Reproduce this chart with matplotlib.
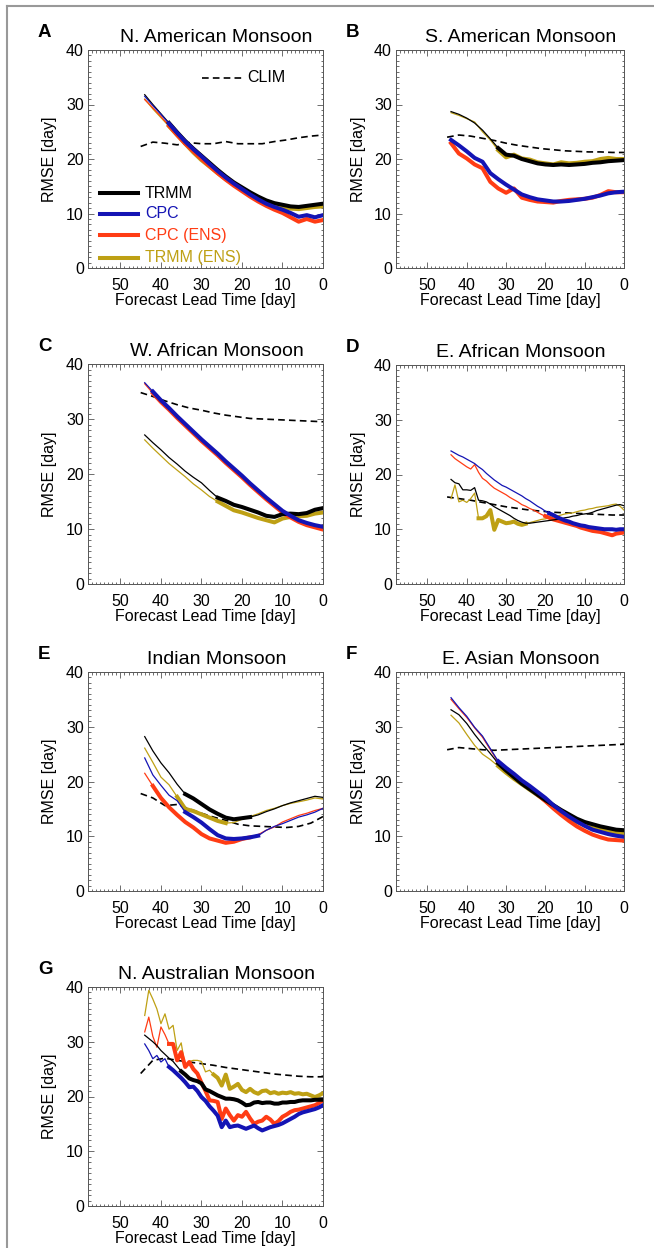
import numpy as np
import matplotlib.pyplot as plt
from matplotlib.lines import Line2D

plt.rcParams['font.family'] = ['Liberation Sans', 'DejaVu Sans']

# forecast lead times [day]
lead2 = list(range(44, -1, -2))
lead1 = list(range(44, -1, -1))
lead_clim = list(range(45, -1, -3))

# ---- A: N. American Monsoon ----
a_trmm = [31.8, 30.0, 28.3, 26.6, 24.9, 23.3, 21.9, 20.6, 19.3, 18.0, 16.8, 15.7,
          14.8, 13.9, 13.1, 12.4, 11.9, 11.6, 11.3, 11.2, 11.4, 11.6, 11.8]
a_cpc = [31.5, 29.8, 28.2, 26.5, 24.8, 23.2, 21.8, 20.5, 19.1, 17.8, 16.6, 15.5,
         14.5, 13.5, 12.6, 11.8, 11.2, 10.7, 10.1, 9.4, 9.7, 9.3, 9.7]
a_cpc_ens = [30.9, 29.4, 27.8, 26.1, 24.4, 22.8, 21.4, 20.0, 18.7, 17.4, 16.2, 15.1,
             14.1, 13.1, 12.2, 11.4, 10.7, 10.1, 9.3, 8.5, 9.0, 8.5, 8.8]
a_trmm_ens = [31.0, 29.2, 27.6, 26.0, 24.4, 22.8, 21.2, 19.8, 18.6, 17.4, 16.3, 15.3,
              14.5, 13.6, 12.8, 12.1, 11.5, 11.2, 10.9, 10.8, 11.0, 11.2, 11.3]
a_clim = [22.3, 23.1, 22.9, 22.6, 23.0, 22.8, 22.8, 23.2, 22.8, 22.8, 22.8, 23.2,
          23.5, 23.9, 24.2, 24.4]

# ---- B: S. American Monsoon ----
b_trmm = [28.7, 28.2, 27.5, 26.6, 25.3, 23.7, 22.0, 20.8, 20.6, 20.0, 19.6, 19.2,
          19.0, 18.9, 19.0, 18.9, 19.0, 19.1, 19.3, 19.4, 19.6, 19.7, 19.8]
b_cpc = [23.5, 22.5, 21.4, 20.2, 19.5, 17.4, 16.3, 15.3, 14.4, 13.5, 13.0, 12.6,
         12.4, 12.2, 12.2, 12.3, 12.5, 12.7, 13.0, 13.3, 13.7, 13.9, 14.0]
b_cpc_ens = [22.9, 21.0, 20.1, 19.0, 18.3, 15.8, 14.6, 13.8, 14.6, 12.9, 12.5, 12.2,
             12.1, 12.0, 12.3, 12.5, 12.6, 12.7, 12.9, 13.4, 14.1, 13.9, 13.9]
b_trmm_ens = [28.5, 28.0, 27.4, 26.8, 25.0, 23.5, 21.6, 20.3, 20.8, 20.1, 19.9, 19.4,
              19.2, 19.0, 19.4, 19.2, 19.3, 19.5, 19.6, 20.0, 20.2, 20.0, 20.0]
b_clim = [24.0, 24.4, 24.2, 23.8, 23.4, 22.9, 22.5, 22.2, 21.9, 21.7, 21.5, 21.4,
          21.3, 21.3, 21.2, 21.2]

# ---- C: W. African Monsoon ----
c_trmm = [27.1, 25.7, 24.4, 23.0, 21.8, 20.5, 19.4, 18.4, 17.0, 15.7, 15.1, 14.4,
          14.0, 13.5, 13.0, 12.4, 12.2, 12.7, 12.8, 12.7, 12.9, 13.5, 13.8]
c_cpc = [36.6, 35.0, 33.4, 32.0, 30.5, 29.1, 27.7, 26.3, 25.0, 23.7, 22.3, 21.0,
         19.7, 18.3, 17.0, 15.7, 14.5, 13.3, 12.4, 11.6, 11.1, 10.7, 10.4]
c_cpc_ens = [36.4, 34.7, 33.1, 31.7, 30.2, 28.8, 27.4, 26.0, 24.7, 23.4, 22.0, 20.7,
             19.4, 18.0, 16.7, 15.4, 14.2, 13.0, 12.1, 11.3, 10.7, 10.3, 9.9]
c_trmm_ens = [26.2, 24.7, 23.3, 21.9, 20.7, 19.5, 18.2, 17.1, 15.9, 15.0, 14.2, 13.4,
              13.0, 12.5, 12.0, 11.6, 11.2, 11.9, 12.2, 12.3, 12.4, 12.8, 13.0]
c_clim = [34.8, 34.1, 33.3, 32.6, 32.0, 31.6, 31.1, 30.7, 30.4, 30.1, 30.0, 29.9,
          29.8, 29.7, 29.6, 29.5]

# ---- D: E. African Monsoon (daily) ----
d_trmm = [19.1, 18.5, 18.3, 17.2, 17.2, 17.1, 17.6, 15.3, 15.2, 15.0, 14.6, 14.1,
          13.7, 13.3, 12.9, 12.5, 12.0, 11.6, 11.3, 11.1, 11.1, 11.2, 11.3, 11.4,
          11.5, 11.6, 11.7, 11.8, 11.9, 12.1, 12.2, 12.4, 12.5, 12.7, 12.8, 12.9,
          13.1, 13.4, 13.6, 13.8, 14.0, 14.2, 14.4, 14.5, 14.3]
d_cpc = [24.3, 23.9, 23.5, 23.2, 22.8, 22.4, 22.0, 21.4, 20.9, 20.2, 19.6, 19.0,
         18.5, 18.0, 17.7, 17.3, 16.9, 16.5, 16.1, 15.6, 15.2, 14.7, 14.2, 13.8,
         13.3, 12.9, 12.6, 12.2, 11.9, 11.6, 11.4, 11.1, 10.9, 10.7, 10.6, 10.4,
         10.3, 10.2, 10.1, 10.0, 10.0, 10.0, 9.9, 10.0, 10.0]
d_cpc_ens = [23.6, 22.9, 22.4, 21.9, 21.4, 21.0, 21.8, 20.4, 19.3, 18.8, 18.1, 17.5,
             17.1, 16.7, 16.3, 15.8, 15.4, 15.0, 14.5, 14.2, 13.8, 13.5, 13.1, 12.7,
             12.4, 12.1, 11.8, 11.6, 11.4, 11.2, 11.0, 10.8, 10.6, 10.3, 10.1, 9.9,
             9.7, 9.6, 9.5, 9.3, 9.1, 8.9, 9.2, 9.3, 9.4]
d_trmm_ens = [15.6, 18.1, 15.0, 15.3, 14.9, 15.6, 16.6, 12.0, 12.0, 12.4, 13.5, 9.9,
              11.7, 11.4, 11.1, 11.2, 11.4, 11.0, 10.8, 11.0, 11.2, 11.4, 11.6, 11.8,
              11.9, 12.1, 12.3, 12.4, 12.6, 12.8, 12.9, 13.0, 13.2, 13.4, 13.5, 13.7,
              13.8, 14.0, 14.1, 14.2, 14.3, 14.5, 14.6, 14.2, 13.5]
d_clim = [15.9, 15.6, 15.3, 14.9, 14.5, 14.1, 13.8, 13.5, 13.3, 13.1, 13.0, 12.9,
          12.8, 12.7, 12.6, 12.6]

# ---- E: Indian Monsoon ----
e_trmm = [28.2, 25.6, 23.4, 21.6, 19.5, 17.7, 16.9, 15.9, 14.9, 14.1, 13.4, 13.1,
          13.3, 13.5, 13.9, 14.5, 15.0, 15.6, 16.1, 16.5, 16.9, 17.3, 17.1]
e_cpc = [24.3, 21.2, 19.3, 17.5, 16.5, 14.4, 13.5, 12.5, 11.3, 10.2, 9.6, 9.5,
         9.6, 9.8, 10.1, 11.1, 11.8, 12.3, 12.9, 13.5, 13.9, 14.4, 15.1]
e_cpc_ens = [21.5, 19.2, 17.0, 15.3, 13.9, 12.6, 11.6, 10.4, 9.6, 9.2, 8.8, 9.0,
             9.5, 9.8, 10.3, 11.1, 11.7, 12.6, 13.2, 13.8, 14.2, 14.7, 15.1]
e_trmm_ens = [26.1, 23.5, 20.8, 19.4, 17.2, 15.0, 14.6, 14.0, 13.4, 12.8, 12.4, 12.5,
              13.1, 13.6, 14.1, 14.7, 15.1, 15.6, 16.0, 16.3, 16.6, 17.0, 16.8]
e_clim = [17.8, 17.0, 15.6, 15.8, 15.0, 14.2, 13.5, 12.9, 12.2, 11.9, 11.8, 11.7,
          11.6, 11.8, 12.4, 13.6]

# ---- F: E. Asian Monsoon ----
f_trmm = [33.1, 32.2, 30.6, 28.6, 26.8, 25.1, 23.3, 22.0, 20.8, 19.6, 18.6, 17.6,
          16.6, 15.7, 14.8, 14.0, 13.2, 12.6, 12.2, 11.8, 11.5, 11.2, 11.1]
f_cpc = [35.3, 33.5, 31.9, 29.9, 28.3, 26.0, 23.7, 22.5, 21.4, 20.2, 19.2, 18.1,
         17.0, 15.7, 14.6, 13.6, 12.7, 11.9, 11.2, 10.8, 10.4, 10.1, 9.9]
f_cpc_ens = [35.0, 33.3, 31.7, 29.8, 28.1, 25.8, 23.6, 22.3, 21.1, 19.9, 18.8, 17.6,
             16.4, 15.1, 13.9, 12.8, 11.8, 11.0, 10.3, 9.8, 9.4, 9.3, 9.2]
f_trmm_ens = [32.1, 30.7, 28.6, 26.6, 25.0, 24.0, 22.8, 21.6, 20.5, 19.5, 18.5, 17.5,
              16.5, 15.5, 14.5, 13.5, 12.6, 12.0, 11.5, 11.2, 10.9, 10.7, 10.5]
f_clim = [25.8, 26.2, 26.0, 25.8, 25.7, 25.8, 25.9, 26.0, 26.1, 26.2, 26.3, 26.4,
          26.5, 26.6, 26.7, 26.8]

# ---- G: N. Australian Monsoon (daily) ----
g_trmm = [31.2, 30.6, 30.0, 29.3, 28.4, 27.7, 27.0, 26.4, 25.5, 24.6, 24.0, 23.3,
          23.0, 22.8, 22.4, 21.3, 21.0, 20.6, 20.2, 19.9, 19.6, 19.6, 19.5, 19.3,
          18.9, 18.4, 18.5, 18.9, 19.0, 18.8, 18.9, 18.9, 18.7, 18.7, 18.9, 18.9,
          19.0, 19.0, 19.2, 19.3, 19.3, 19.3, 19.4, 19.4, 19.4]
g_cpc = [29.6, 28.4, 26.9, 27.5, 26.3, 26.9, 25.4, 24.8, 24.1, 23.4, 22.6, 21.7,
         21.8, 21.0, 19.9, 19.2, 18.2, 17.4, 16.5, 14.4, 15.6, 14.4, 14.6, 14.7,
         14.4, 14.1, 14.4, 14.7, 14.2, 13.8, 14.1, 14.4, 14.6, 14.8, 15.1, 15.5,
         15.9, 16.3, 16.8, 17.1, 17.3, 17.5, 17.7, 18.0, 18.4]
g_cpc_ens = [31.8, 34.5, 31.0, 29.0, 32.7, 31.3, 29.6, 29.6, 26.6, 28.1, 25.4, 26.3,
             25.0, 24.2, 22.5, 21.0, 19.3, 19.2, 19.0, 15.9, 17.8, 16.6, 15.6, 16.6,
             16.3, 17.2, 16.0, 15.0, 15.4, 15.6, 16.3, 15.8, 15.0, 15.5, 16.3, 16.7,
             17.2, 17.5, 17.6, 17.8, 18.0, 18.2, 18.4, 18.8, 19.3]
g_trmm_ens = [34.8, 39.4, 37.8, 36.0, 33.3, 35.1, 32.3, 33.0, 28.4, 29.8, 25.4, 26.4,
              26.6, 26.6, 26.4, 24.5, 24.8, 24.0, 23.4, 22.0, 24.0, 21.4, 21.8, 22.3,
              21.2, 20.8, 21.4, 20.8, 20.5, 21.0, 21.1, 20.6, 20.8, 20.5, 20.7, 20.6,
              20.8, 20.5, 20.6, 20.4, 20.5, 20.2, 19.9, 20.2, 20.6]
g_clim = [24.2, 26.6, 27.0, 26.6, 26.3, 26.0, 25.7, 25.3, 25.0, 24.7, 24.4, 24.1,
          23.9, 23.7, 23.6, 23.6]

# lead-time windows (min, max) where the error is significant -> drawn thick
a_sig = [(0, 39), (0, 39), (0, 39), (0, 39)]
b_sig = [(0, 32), (0, 44), (0, 44), (0, 32)]
c_sig = [(0, 27), (0, 42), (0, 42), (0, 27)]
d_sig = [None, (0, 19), (0, 20), (25, 37)]
e_sig = [(17, 35), (15, 35), (17, 43), (23, 36)]
f_sig = [(0, 32), (0, 32), (0, 32), (0, 32)]
g_sig = [(0, 35), (0, 38), (0, 38), (0, 27)]

names = ['TRMM', 'CPC', 'CPC (ENS)', 'TRMM (ENS)']
colors = ['#000000', '#1414b4', '#ff3c14', '#bea014']
draw_order = [3, 2, 0, 1]

panels = [
    ('A', 'N. American Monsoon', lead2, [a_trmm, a_cpc, a_cpc_ens, a_trmm_ens], a_clim, a_sig),
    ('B', 'S. American Monsoon', lead2, [b_trmm, b_cpc, b_cpc_ens, b_trmm_ens], b_clim, b_sig),
    ('C', 'W. African Monsoon', lead2, [c_trmm, c_cpc, c_cpc_ens, c_trmm_ens], c_clim, c_sig),
    ('D', 'E. African Monsoon', lead1, [d_trmm, d_cpc, d_cpc_ens, d_trmm_ens], d_clim, d_sig),
    ('E', 'Indian Monsoon', lead2, [e_trmm, e_cpc, e_cpc_ens, e_trmm_ens], e_clim, e_sig),
    ('F', 'E. Asian Monsoon', lead2, [f_trmm, f_cpc, f_cpc_ens, f_trmm_ens], f_clim, f_sig),
    ('G', 'N. Australian Monsoon', lead1, [g_trmm, g_cpc, g_cpc_ens, g_trmm_ens], g_clim, g_sig),
]

# axes boxes in pixels: left, top, right, bottom
boxes = [(88, 50, 323, 268), (396, 50, 624, 268),
         (88, 364, 323, 584), (396, 365, 624, 584),
         (88, 672, 323, 891), (396, 672, 624, 891),
         (88, 987, 323, 1206)]

W, H = 654, 1248
fig = plt.figure(figsize=(W / 100, H / 100), dpi=100)
fs = 11.5

for (letter, title, lead, series, clim, sig), (l, t, r, b) in zip(panels, boxes):
    ax = fig.add_axes([l / W, 1 - b / H, (r - l) / W, (b - t) / H])
    lead = np.array(lead)

    ax.plot(lead_clim, clim, color='k', lw=1.2, dashes=(4, 2.5))
    for i in draw_order:
        y = np.array(series[i])
        ax.plot(lead, y, color=colors[i], lw=0.9)
        if sig[i] is not None:
            m = (lead >= sig[i][0]) & (lead <= sig[i][1])
            ax.plot(lead[m], y[m], color=colors[i], lw=2.9, solid_joinstyle='round')

    ax.set_xlim(58, 0)
    ax.set_ylim(0, 40)
    ax.set_xticks([50, 40, 30, 20, 10, 0])
    ax.set_yticks([0, 10, 20, 30, 40])
    ax.set_xticks(np.arange(0, 58), minor=True)
    ax.set_yticks(np.arange(0, 41), minor=True)
    ax.tick_params(which='both', direction='in', top=True, right=True, color='#555555',
                   width=0.6, labelsize=fs)
    ax.tick_params(which='major', length=4)
    ax.tick_params(which='minor', length=1.8)
    ax.tick_params(axis='x', pad=7)
    ax.tick_params(axis='y', pad=3)
    for s in ax.spines.values():
        s.set_color('#555555')
        s.set_linewidth(0.7)

    ax.set_ylabel('RMSE [day]', fontsize=fs)
    ax.yaxis.set_label_coords(-0.13, 0.5)
    ax.set_xlabel('Forecast Lead Time [day]', fontsize=fs)
    ax.xaxis.set_label_coords(0.5, -0.115)

    ax.text(0.5 + 11 / (r - l), 1 + 8 / (b - t), title, transform=ax.transAxes,
            ha='center', va='baseline', fontsize=14)
    fig.text((l - 50) / W, 1 - (t - 13) / H, letter, ha='left', va='baseline',
             fontsize=13.5, fontweight='bold')

    if letter == 'A':
        rows = [0.344, 0.248, 0.151, 0.046]
        for i, yy in enumerate(rows):
            ax.plot([0.051, 0.213], [yy, yy], transform=ax.transAxes, color=colors[i], lw=2.9)
            ax.text(0.243, yy, names[i], transform=ax.transAxes, color=colors[i],
                    fontsize=fs, va='center', ha='left')
        ax.plot([0.485, 0.655], [0.872, 0.872], transform=ax.transAxes, color='k',
                lw=1.2, dashes=(4, 2.5))
        ax.text(0.677, 0.872, 'CLIM', transform=ax.transAxes, fontsize=fs,
                va='center', ha='left')

# page frame
fig.add_artist(Line2D([7 / W, 1], [1 - 6 / H, 1 - 6 / H], color='#999999', lw=1.5))
fig.add_artist(Line2D([7 / W, 7 / W], [0, 1 - 6 / H], color='#999999', lw=1.5))

fig.savefig('out.png', dpi=100)
